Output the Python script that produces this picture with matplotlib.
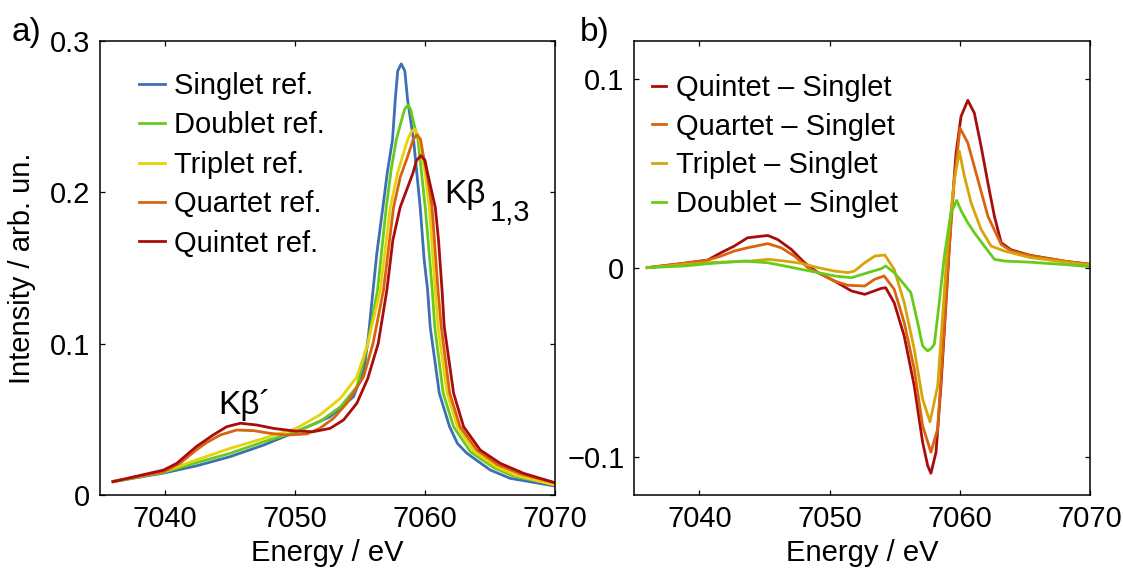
import numpy as np
import matplotlib
matplotlib.use("Agg")
import matplotlib.pyplot as plt

plt.rcParams['font.family'] = ['Liberation Sans', 'DejaVu Sans']
plt.rcParams['font.size'] = 21

# ---- panel a) reference spectra (energy / intensity pairs read off the figure)
singlet_e = [7036.0, 7039.9, 7042.4, 7045.0, 7047.6, 7050.1, 7052.7, 7054.5, 7055.3, 7055.65,
             7056.0, 7056.3, 7056.76, 7057.1, 7057.5, 7057.71, 7057.9, 7058.17, 7058.45, 7058.66,
             7059.12, 7059.63, 7059.94, 7060.2, 7060.4, 7061.1, 7061.89, 7062.5, 7063.23, 7065.02,
             7066.56, 7070.0]
singlet_i = [0.0088, 0.0145, 0.0192, 0.0253, 0.0330, 0.0418, 0.0517, 0.0649, 0.0826, 0.105,
             0.135, 0.160, 0.190, 0.213, 0.2345, 0.261, 0.280, 0.2847, 0.280, 0.261,
             0.2345, 0.190, 0.155, 0.1354, 0.111, 0.0672, 0.0451, 0.034, 0.0275, 0.0165,
             0.011, 0.0059]

doublet_e = [7036.0, 7039.9, 7042.4, 7045.0, 7047.6, 7050.1, 7051.9, 7053.5, 7054.76, 7055.6,
             7056.35, 7057.02, 7057.4, 7057.79, 7058.2, 7058.45, 7058.69, 7058.9, 7059.07, 7059.46,
             7060.02, 7060.56, 7060.75, 7061.4, 7062.2, 7063.5, 7065.3, 7066.8, 7070.0]
doublet_i = [0.0088, 0.0150, 0.0213, 0.0275, 0.0352, 0.0418, 0.0484, 0.0583, 0.0715, 0.100,
             0.1354, 0.190, 0.215, 0.2345, 0.2477, 0.255, 0.2576, 0.2545, 0.2477, 0.2345,
             0.190, 0.1354, 0.111, 0.0672, 0.0451, 0.0285, 0.018, 0.0125, 0.0068]

triplet_e = [7036.0, 7039.9, 7042.4, 7045.0, 7047.6, 7050.1, 7051.9, 7053.5, 7054.76, 7055.6,
             7056.56, 7057.33, 7057.9, 7058.66, 7058.95, 7059.2, 7059.4, 7059.58, 7060.0, 7060.33,
             7060.79, 7061.0, 7061.7, 7062.5, 7063.8, 7065.5, 7067.0, 7070.0]
triplet_i = [0.0090, 0.0154, 0.0231, 0.0308, 0.0374, 0.0440, 0.0528, 0.0639, 0.078, 0.100,
             0.1354, 0.190, 0.213, 0.2345, 0.240, 0.2415, 0.239, 0.2345, 0.213, 0.190,
             0.1354, 0.111, 0.0672, 0.0451, 0.0285, 0.0185, 0.013, 0.0065]

quartet_e = [7036.0, 7039.9, 7041.16, 7042.4, 7043.2, 7044.24, 7045.5, 7046.8, 7048.1, 7049.4,
             7050.9, 7051.9, 7052.96, 7053.99, 7055.27, 7056.0, 7056.81, 7057.58, 7058.1, 7058.66,
             7059.1, 7059.38, 7059.65, 7059.89, 7060.2, 7060.54, 7061.0, 7061.25, 7061.9, 7062.7,
             7064.0, 7065.6, 7067.3, 7070.0]
quartet_i = [0.0090, 0.0154, 0.021, 0.0297, 0.0346, 0.0396, 0.0429, 0.0425, 0.0407, 0.0396,
             0.0403, 0.044, 0.0506, 0.0606, 0.078, 0.100, 0.1354, 0.190, 0.210, 0.2234,
             0.235, 0.2378, 0.235, 0.2234, 0.210, 0.190, 0.1354, 0.111, 0.0672, 0.0451,
             0.0295, 0.020, 0.014, 0.0080]

quintet_e = [7036.0, 7039.9, 7040.9, 7042.4, 7043.7, 7044.75, 7045.8, 7047.07, 7048.34, 7049.9,
             7051.4, 7052.7, 7053.73, 7054.76, 7055.6, 7056.4, 7057.07, 7057.53, 7058.09, 7059.07,
             7059.35, 7059.69, 7060.0, 7060.2, 7060.79, 7061.04, 7061.31, 7061.48, 7062.2, 7062.97,
             7064.25, 7065.79, 7067.59, 7070.0]
quintet_i = [0.0088, 0.0165, 0.0209, 0.0319, 0.0396, 0.0451, 0.0474, 0.0462, 0.044, 0.0423,
             0.0418, 0.044, 0.0495, 0.0606, 0.077, 0.100, 0.1354, 0.1684, 0.190, 0.2125,
             0.221, 0.2241, 0.221, 0.2125, 0.190, 0.1684, 0.1354, 0.1112, 0.0672, 0.0451,
             0.0297, 0.0209, 0.0143, 0.0081]

# ---- panel b) difference spectra
q5_e = [7036.0, 7038.83, 7040.63, 7041.66, 7042.68, 7043.7, 7045.25, 7046.0, 7047.05, 7048.07,
        7049.1, 7050.38, 7051.67, 7052.69, 7053.98, 7054.3, 7054.95, 7055.72, 7056.49, 7057.13,
        7057.52, 7057.77, 7058.16, 7058.54, 7058.93, 7059.31, 7059.7, 7060.08, 7060.6, 7061.1,
        7061.62, 7062.14, 7062.64, 7063.16, 7063.93, 7065.34, 7068.1, 7070.0]
q5_d = [0.0001, 0.0024, 0.0041, 0.008, 0.0115, 0.0159, 0.0171, 0.015, 0.0098, 0.0027,
        -0.0025, -0.007, -0.0122, -0.014, -0.0108, -0.0105, -0.0184, -0.036, -0.0623, -0.092,
        -0.1045, -0.1085, -0.0974, -0.0623, -0.0184, 0.0256, 0.0607, 0.080, 0.0885, 0.0818,
        0.0642, 0.0449, 0.0273, 0.0133, 0.0095, 0.0067, 0.0034, 0.0019]

q4_e = [7036.0, 7038.83, 7040.63, 7041.66, 7042.68, 7043.7, 7045.25, 7046.28, 7047.3, 7048.33,
        7049.36, 7050.38, 7051.4, 7052.69, 7053.46, 7054.18, 7054.95, 7055.72, 7056.49, 7057.13,
        7057.77, 7058.29, 7058.67, 7059.06, 7059.57, 7060.0, 7060.6, 7061.37, 7062.14, 7063.16,
        7063.93, 7065.34, 7068.1, 7070.0]
q4_d = [0.0001, 0.0024, 0.0041, 0.0062, 0.0089, 0.0106, 0.0128, 0.0106, 0.0062, 0.0001,
        -0.0034, -0.007, -0.0092, -0.0096, -0.006, -0.0043, -0.0113, -0.0289, -0.0535, -0.0834,
        -0.0974, -0.0851, -0.0447, -0.0008, 0.0467, 0.0739, 0.066, 0.0467, 0.0273, 0.0124,
        0.0089, 0.0065, 0.0035, 0.0018]

q3_e = [7036.0, 7038.83, 7040.63, 7043.97, 7045.25, 7046.53, 7047.82, 7049.1, 7050.38, 7051.4,
        7051.9, 7052.69, 7053.46, 7054.23, 7054.95, 7055.72, 7056.49, 7057.13, 7057.7, 7058.29,
        7058.67, 7059.06, 7059.57, 7059.95, 7060.34, 7060.85, 7061.62, 7062.39, 7063.41, 7065.34,
        7068.1, 7070.0]
q3_d = [0.0001, 0.0018, 0.0027, 0.0036, 0.0045, 0.0036, 0.0024, 0.0001, -0.0017, -0.0025,
        -0.0017, 0.0027, 0.0062, 0.0068, -0.0008, -0.0184, -0.043, -0.0693, -0.0813, -0.0623,
        -0.0254, 0.0133, 0.0467, 0.0616, 0.0484, 0.0344, 0.0203, 0.0115, 0.0089, 0.0055,
        0.003, 0.0015]

q2_e = [7036.0, 7038.83, 7041.0, 7043.45, 7045.25, 7046.53, 7047.82, 7049.1, 7050.38, 7051.67,
        7052.95, 7053.98, 7054.3, 7054.95, 7055.6, 7056.23, 7056.75, 7057.13, 7057.52, 7057.8,
        7058.03, 7058.41, 7058.8, 7059.31, 7059.75, 7060.1, 7060.6, 7061.1, 7061.87, 7062.64,
        7063.41, 7065.34, 7068.1, 7070.0]
q2_d = [0.0001, 0.001, 0.0024, 0.0036, 0.0027, 0.001, -0.0008, -0.0025, -0.0043, -0.0052,
        -0.0025, -0.0004, 0.001, -0.0025, -0.0078, -0.0131, -0.0289, -0.0412, -0.0439, -0.0425,
        -0.0403, -0.0184, 0.0062, 0.0291, 0.0356, 0.030, 0.0238, 0.0186, 0.0115, 0.0045,
        0.0036, 0.003, 0.0017, 0.0006]

ref_labels = ['Singlet ref.', 'Doublet ref.', 'Triplet ref.', 'Quartet ref.', 'Quintet ref.']
ref_colors = ['#3e6eb4', '#66cc1c', '#e8d20a', '#d9640f', '#a80d0d']
diff_labels = ['Quintet \u2013 Singlet', 'Quartet \u2013 Singlet',
               'Triplet \u2013 Singlet', 'Doublet \u2013 Singlet']
diff_colors = ['#a80d0d', '#d9640f', '#d6a50a', '#66cc1c']

fig = plt.figure(figsize=(11.23, 5.69), dpi=100)
ax1 = fig.add_axes([0.08905, 0.13005, 0.40516, 0.79842])
ax2 = fig.add_axes([0.56474, 0.13005, 0.40614, 0.79842])

ref_data = [(singlet_e, singlet_i), (doublet_e, doublet_i), (triplet_e, triplet_i),
            (quartet_e, quartet_i), (quintet_e, quintet_i)]
for (e, i), lab, c in zip(ref_data, ref_labels, ref_colors):
    ax1.plot(e, i, color=c, lw=2.0, label=lab, solid_joinstyle='round')

diff_data = [(q5_e, q5_d), (q4_e, q4_d), (q3_e, q3_d), (q2_e, q2_d)]
for (e, d), lab, c in zip(diff_data, diff_labels, diff_colors):
    ax2.plot(e, d, color=c, lw=2.0, label=lab, solid_joinstyle='round')

for ax in (ax1, ax2):
    ax.set_xlim(7035, 7070)
    ax.set_xticks([7040, 7050, 7060, 7070])
    ax.tick_params(direction='in', length=3.5, width=0.9, top=True, right=True,
                   labelsize=21, pad=7)
    for s in ax.spines.values():
        s.set_linewidth(1.1)
    ax.set_xlabel('Energy / eV')
    # the reference crops this label at the bottom edge; keep it just inside
    ax.xaxis.set_label_coords(0.5, -0.097)

ax1.set_ylim(0, 0.3)
ax1.set_yticks([0, 0.1, 0.2, 0.3])
ax1.set_yticklabels(['0', '0.1', '0.2', '0.3'])
ax1.set_ylabel('Intensity / arb. un.')
ax1.yaxis.set_label_coords(-0.141, 0.5)

ax2.set_ylim(-0.12, 0.12)
ax2.set_yticks([-0.1, 0, 0.1])
ax2.set_yticklabels(['\u22120.1', '0', '0.1'])

ax1.legend(loc='upper left', bbox_to_anchor=(0.0857, 0.931), frameon=False,
           handlelength=0.89, handletextpad=0.31, labelspacing=0.39,
           borderpad=0, borderaxespad=0, fontsize=21)
ax2.legend(loc='upper left', bbox_to_anchor=(0.0388, 0.927), frameon=False,
           handlelength=0.47, handletextpad=0.34, labelspacing=0.37,
           borderpad=0, borderaxespad=0, fontsize=21)

ax1.text(7044.08, 0.0535, 'K\u03b2\u00b4', fontsize=24, ha='left', va='baseline')
ax1.text(7061.48, 0.1927, 'K\u03b2', fontsize=24, ha='left', va='baseline')
ax1.text(7064.95, 0.1812, '1,3', fontsize=21, ha='left', va='baseline')

fig.text(0.0107, 0.928, 'a)', fontsize=24, ha='left', va='baseline')
fig.text(0.5163, 0.928, 'b)', fontsize=24, ha='left', va='baseline')

fig.savefig('out.png', dpi=100)
